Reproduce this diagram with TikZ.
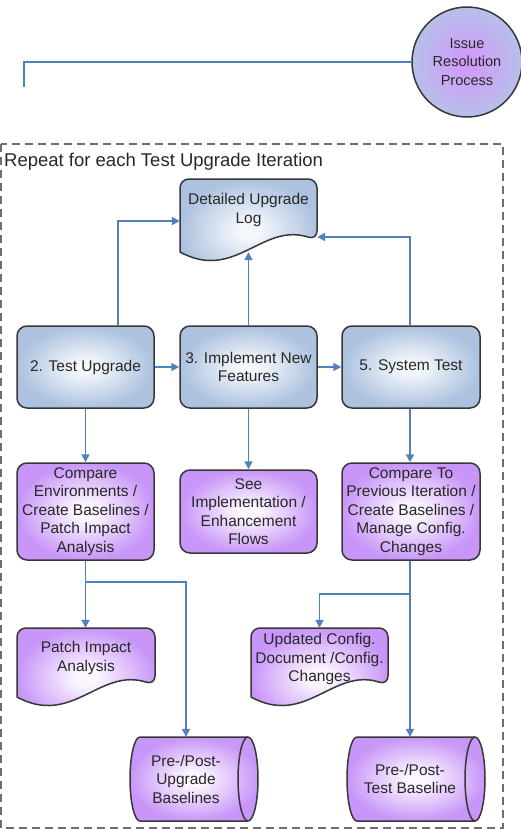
\documentclass[tikz,border=0pt]{standalone}
\usepackage{fontspec}
\setmainfont{Liberation Sans}
\usetikzlibrary{arrows.meta}
\definecolor{bxin}{RGB}{244,247,252}
\definecolor{bxout}{RGB}{172,194,222}
\definecolor{pin}{RGB}{252,246,255}
\definecolor{pout}{RGB}{200,150,248}
\definecolor{cin}{RGB}{208,156,248}
\definecolor{cout}{RGB}{182,192,234}
\definecolor{edgegray}{RGB}{55,55,55}
\definecolor{connblue}{RGB}{79,129,189}
\definecolor{txtgray}{RGB}{40,40,40}
\definecolor{framegray}{RGB}{110,110,110}
\pgfdeclareradialshading{blueshade}{\pgfpoint{0bp}{0bp}}{color(0bp)=(bxin); color(4bp)=(bxin); color(25bp)=(bxout); color(50bp)=(bxout)}
\pgfdeclareradialshading{purpshade}{\pgfpoint{0bp}{0bp}}{color(0bp)=(pin); color(4bp)=(pin); color(25bp)=(pout); color(50bp)=(pout)}
\pgfdeclareradialshading{circshade}{\pgfpoint{0bp}{0bp}}{color(0bp)=(cin); color(4bp)=(cin); color(25bp)=(cout); color(50bp)=(cout)}
\newcommand{\docshape}[5]{%
  \path[#1] (#2,#5) [rounded corners=9pt] -- (#2,#3) -- (#4,#3) -- (#4,{#5-12}) [sharp corners]
    .. controls ({#2+0.6*(#4-#2)},{#5-30}) and ({#2+0.4*(#4-#2)},{#5+30}) .. (#2,#5) -- cycle;}
\newcommand{\cylshape}[5]{%
  \path[#1] ({#2+10},#3) -- ({#4-10},#3) arc[start angle=90,end angle=-90,x radius=10pt,y radius=42pt]
    -- ({#2+10},#5) arc[start angle=270,end angle=90,x radius=10pt,y radius=42pt] -- cycle;
  \draw[draw=edgegray, line width=1.5pt] ({#4-10},#3) arc[start angle=90,end angle=270,x radius=10pt,y radius=42pt];}
\begin{document}
\begin{tikzpicture}[x=1pt,y=-1pt,
  base/.style={font=\fontsize{15.5}{18.5}\selectfont, text=txtgray, align=center, inner sep=1pt},
  bbox/.style={base, rectangle, rounded corners=10pt, draw=edgegray, line width=1.5pt, shade, shading=blueshade, minimum width=137pt, minimum height=82pt},
  pbox/.style={bbox, shading=purpshade, minimum height=97pt},
  bshape/.style={draw=edgegray, line width=1.5pt, shade, shading=blueshade},
  pshape/.style={draw=edgegray, line width=1.5pt, shade, shading=purpshade},
  plain/.style={base, rectangle, minimum width=137pt},
  link/.style={draw=connblue, line width=1.8pt},
  arr/.style={link, -{Triangle[length=8pt,width=8pt]}}
]
\useasboundingbox (0,0) rectangle (520,830);

% frame
\draw[draw=framegray, line width=1.5pt, dash pattern=on 8pt off 5pt] (1,144) rectangle (503,828);
\node[anchor=base west, font=\fontsize{18.5}{22}\selectfont, text=txtgray, inner sep=0pt] (title) at (4,166) {Repeat for each Test Upgrade Iteration};

% issue resolution circle
\node[circle, draw=edgegray, line width=1.5pt, shade, shading=circshade, minimum size=110pt, inner sep=0pt,
  font=\fontsize{14.5}{18.5}\selectfont, text=txtgray, align=center] (irp) at (467,62) {Issue\\Resolution\\Process};
\coordinate (lineend) at (24,87);
\draw[link] (irp.west) -| (lineend);

% shapes drawn directly
\docshape{bshape}{180}{179}{317}{252}
\docshape{pshape}{17}{628}{155}{697}
\docshape{pshape}{251}{628}{388}{697}
\cylshape{pshape}{130}{737}{258}{821}
\cylshape{pshape}{347}{737}{485}{821}

% text / anchor nodes for the shapes
\node[plain, minimum height=62pt] (log) at (248.5,210) {Detailed Upgrade\\Log};
\node[plain, minimum height=60pt] (pia) at (86,658) {Patch Impact\\Analysis};
\node[plain, minimum height=62pt] (ucd) at (319.5,659) {Updated Config.\\Document /Config.\\Changes};
\node[base, minimum width=110pt, minimum height=84pt] (pub) at (186,779) {Pre-/Post-\\Upgrade\\Baselines};
\node[base, minimum width=120pt, minimum height=84pt] (ptb) at (410,779) {Pre-/Post-\\Test Baseline};

% process boxes
\node[bbox] (tu) at (85.5,367) {2. Test Upgrade};
\node[bbox] (inf) at (248.5,367) {3. Implement New\\Features};
\node[bbox, minimum width=138pt] (st) at (411,367) {5. System Test};

\node[pbox] (ce) at (85.5,511.5) {Compare\\Environments /\\Create Baselines /\\Patch Impact\\Analysis};
\node[pbox, minimum height=83pt] (see) at (248.5,511.5) {See\\Implementation /\\Enhancement\\Flows};
\node[pbox, minimum width=138pt] (cpi) at (411,511.5) {Compare To\\Previous Iteration /\\Create Baselines /\\Manage Config.\\Changes};

% connectors
\draw[arr] ([xshift=32.5pt]tu.north) |- ([yshift=-11pt]log.west);
\draw[arr] (inf.north) -- ([yshift=-11pt]log.south);
\draw[arr] ([xshift=-1pt]st.north) |- ([yshift=-27pt]log.east);
\draw[arr] (tu.east) -- (inf.west);
\draw[arr] (inf.east) -- (st.west);
\draw[arr] (tu.south) -- (ce.north);
\draw[arr] (inf.south) -- (see.north);
\draw[arr] ([xshift=-1pt]st.south) -- ([xshift=-1pt]cpi.north);
\draw[arr] (ce.south) -- (ce.south |- pia.north);
\draw[arr] (ce.south) -- ([yshift=-21pt]ce.south) -| (pub.north);
\draw[arr] ([xshift=-1pt]cpi.south) -- ([xshift=-1pt]cpi.south |- ptb.north);
\draw[arr] ([xshift=-1pt,yshift=-33pt]cpi.south) -| (ucd.north);
\end{tikzpicture}
\end{document}
